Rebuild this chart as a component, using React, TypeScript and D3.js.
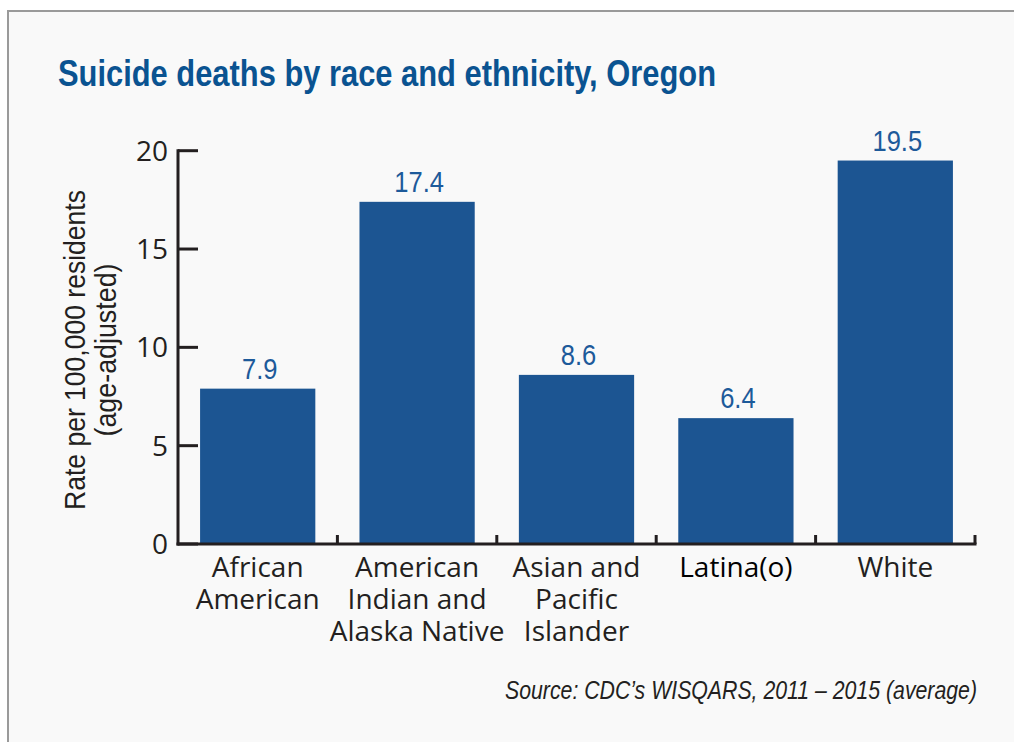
import React from "react";
import * as d3 from "d3";

const categories: string[][] = [
  ["African", "American"],
  ["American", "Indian and", "Alaska Native"],
  ["Asian and", "Pacific", "Islander"],
  ["Latina(o)"],
  ["White"],
];
const values: number[] = [7.9, 17.4, 8.6, 6.4, 19.5];
const valueLabels: string[] = ["7.9", "17.4", "8.6", "6.4", "19.5"];
const yTicks: number[] = [0, 5, 10, 15, 20];
const title = "Suicide deaths by race and ethnicity, Oregon";
const yTitle: string[] = ["Rate per 100,000 residents", "(age-adjusted)"];
const source = "Source: CDC\u2019s WISQARS, 2011 \u2013 2015 (average)";

const W = 1014;
const H = 742;
const X0 = 178;
const X1 = 975;
const Y0 = 544;
const Y1 = 150.7;

export default function App() {
  const ids = categories.map((_, i) => String(i));
  const x = d3.scaleBand<string>().domain(ids).range([X0, X1]).paddingInner(0.277).paddingOuter(0.1385);
  const y = d3.scaleLinear().domain([0, 20]).range([Y0, Y1]);
  const step = x.step();
  const axisColor = "#231f20";
  const barColor = "#1c5592";
  const font = "'Open Sans', sans-serif";
  const condensed = "'Liberation Sans', Arial, sans-serif";

  return (
    <svg
      width={W}
      height={H}
      style={{ position: "absolute", left: 0, top: 0, background: "#ffffff" }}
    >
      <rect x={8} y={11} width={W + 20} height={H + 20} fill="#f9f9f9" stroke="#9a9a9a" strokeWidth={2} />

      <text
        x={58}
        y={86}
        fontFamily={condensed}
        fontWeight="bold"
        fontSize={36}
        fill="#0a5391"
        textLength={658}
        lengthAdjust="spacingAndGlyphs"
      >
        {title}
      </text>

      {/* y axis title */}
      <g transform={`translate(85, 350) rotate(-90)`}>
        <text
          x={0}
          y={0}
          textAnchor="middle"
          fontFamily={condensed}
          fontSize={29}
          fill={axisColor}
          textLength={320}
          lengthAdjust="spacingAndGlyphs"
        >
          {yTitle[0]}
        </text>
        <text
          x={0}
          y={31}
          textAnchor="middle"
          fontFamily={condensed}
          fontSize={29}
          fill={axisColor}
          textLength={173}
          lengthAdjust="spacingAndGlyphs"
        >
          {yTitle[1]}
        </text>
      </g>

      {/* bars */}
      {values.map((v, i) => (
        <rect
          key={"b" + i}
          x={x(String(i))}
          y={y(v)}
          width={x.bandwidth()}
          height={Y0 - y(v)}
          fill={barColor}
        />
      ))}

      {/* value labels */}
      {values.map((v, i) => (
        <g key={"v" + i} transform={`translate(${(x(String(i)) as number) + x.bandwidth() / 2 + 2}, ${y(v) - 10}) scale(0.88, 1)`}>
          <text textAnchor="middle" fontFamily={condensed} fontSize={29} fill="#1d5a9a">
            {valueLabels[i]}
          </text>
        </g>
      ))}

      {/* y axis */}
      <line x1={X0} x2={X0} y1={y(20) - 1.5} y2={Y0 + 1.5} stroke={axisColor} strokeWidth={3} />
      {yTicks.map((t) => (
        <g key={"t" + t}>
          <line x1={X0} x2={X0 + 20} y1={y(t)} y2={y(t)} stroke={axisColor} strokeWidth={3} />
          <text
            x={168}
            y={y(t) + 10}
            textAnchor="end"
            fontFamily={font}
            fontSize={28}
            fill={axisColor}
          >
            {t}
          </text>
        </g>
      ))}

      {/* x axis */}
      <line x1={X0 - 1.5} x2={X1 + 1.5} y1={Y0} y2={Y0} stroke={axisColor} strokeWidth={3} />
      {ids.map((_, i) => (
        <line
          key={"xt" + i}
          x1={X0 + step * (i + 1)}
          x2={X0 + step * (i + 1)}
          y1={Y0}
          y2={Y0 - 9}
          stroke={axisColor}
          strokeWidth={3}
        />
      ))}

      {/* x labels */}
      {categories.map((lines, i) => (
        <text
          key={"xl" + i}
          textAnchor="middle"
          fontFamily={font}
          fontSize={28}
          fill={i === 3 ? "#000000" : axisColor}
        >
          {lines.map((l, j) => (
            <tspan key={j} x={(x(String(i)) as number) + x.bandwidth() / 2} y={577 + j * 32}>
              {l}
            </tspan>
          ))}
        </text>
      ))}

      <text
        x={977}
        y={699}
        textAnchor="end"
        fontFamily={condensed}
        fontStyle="italic"
        fontSize={26}
        fill={axisColor}
        textLength={472}
        lengthAdjust="spacingAndGlyphs"
      >
        {source}
      </text>
    </svg>
  );
}
